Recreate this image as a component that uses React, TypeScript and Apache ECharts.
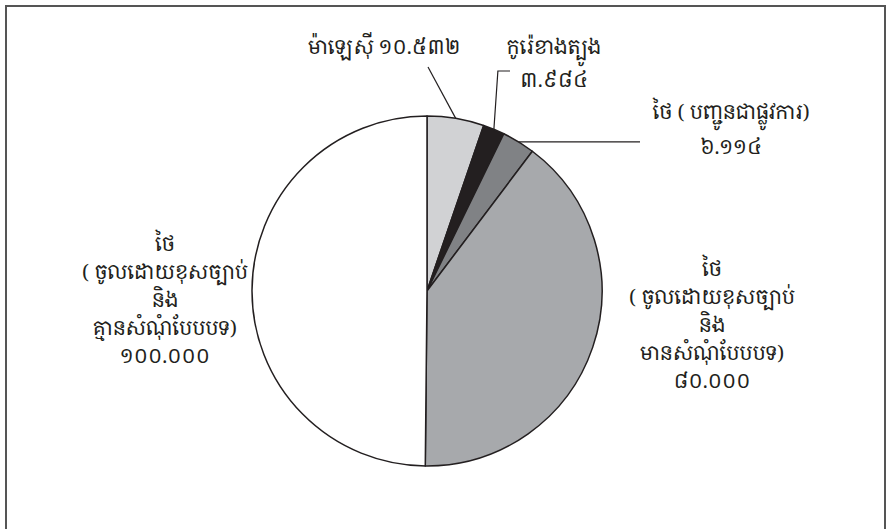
import React, { useEffect, useRef } from "react";
import * as echarts from "echarts";

// ---- data ----
const names: string[] = [
  "ម៉ាឡេស៊ី",
  "កូរ៉េខាងត្បូង",
  "ថៃ ( បញ្ជូនជាផ្លូវការ)",
  "ថៃ\n( ចូលដោយខុសច្បាប់\nនិង\nមានសំណុំបែបបទ)",
  "ថៃ\n( ចូលដោយខុសច្បាប់\nនិង\nគ្មានសំណុំបែបបទ)",
];
const values: number[] = [10532, 3984, 6114, 80000, 100000];
const colors: string[] = ["#d1d2d4", "#231f20", "#808285", "#a7a9ac", "#ffffff"];

// ---- layout (label anchors, in px) ----
const labelPos: [number, number][] = [
  [384, 46],
  [554, 63],
  [731, 129],
  [712, 324],
  [165, 299],
];
const labelLineHeights = [30, 33, 35, 28, 28];

const khmerDigits = ["០", "១", "២", "៣", "៤", "៥", "៦", "៧", "៨", "៩"];
function toKhmer(n: number): string {
  const s = String(n).replace(/\B(?=(\d{3})+(?!\d))/g, ".");
  return s.replace(/[0-9]/g, (d) => khmerDigits[Number(d)]);
}

const FONT = "'Khmer OS', 'Noto Serif Khmer', 'Noto Sans Khmer', 'DejaVu Serif', serif";

export default function App() {
  const ref = useRef<HTMLDivElement>(null);
  useEffect(() => {
    if (!ref.current) return;
    const chart = echarts.init(ref.current, undefined, { renderer: "svg" });
    const data = values.map((v, i) => ({
      name: names[i],
      value: v,
      itemStyle: { color: colors[i] },
      label: { lineHeight: labelLineHeights[i] },
      labelLine: { show: i < 3 },
    }));
    chart.setOption({
      animation: false,
      backgroundColor: "#ffffff",
      graphic: [
        {
          type: "rect",
          shape: { x: 6, y: 6, width: 879, height: 560 },
          style: { fill: "none", stroke: "#555555", lineWidth: 2 },
          silent: true,
        },
      ],
      series: [
        {
          type: "pie",
          center: [427, 291],
          radius: 175,
          startAngle: 90,
          clockwise: true,
          data,
          itemStyle: { borderColor: "#231f20", borderWidth: 1.5 },
          emphasis: { disabled: true },
          label: {
            show: true,
            position: "outside",
            color: "#231f20",
            fontFamily: FONT,
            fontSize: 20,
            align: "center",
            formatter: (p: any) => {
              const i = p.dataIndex;
              const v = toKhmer(p.value);
              if (i === 0) return p.name + " " + v;
              return p.name + "\n" + v;
            },
          },
          labelLine: {
            show: true,
            length: 10,
            length2: 10,
            lineStyle: { color: "#231f20", width: 1.2 },
          },
          labelLayout: (p: any) => {
            const i = p.dataIndex;
            const [lx, ly] = labelPos[i];
            const res: any = { x: lx, y: ly, align: "center", verticalAlign: "middle" };
            const pts = p.labelLinePoints;
            if (pts && pts[0] && i < 3) {
              const e = pts[0];
              if (i === 0) res.labelLinePoints = [e, [lx + 44, ly + 21], [lx + 44, ly + 21]];
              else if (i === 1)
                res.labelLinePoints = [e, [e[0] + 4, ly + 8], [lx - 44, ly + 8]];
              else res.labelLinePoints = [e, [lx - 91, e[1]], [lx - 91, e[1]]];
            }
            return res;
          },
        },
      ],
    });
    return () => chart.dispose();
  }, []);
  return (
    <div
      ref={ref}
      style={{ position: "fixed", left: 0, top: 0, width: 887, height: 529 }}
    />
  );
}
